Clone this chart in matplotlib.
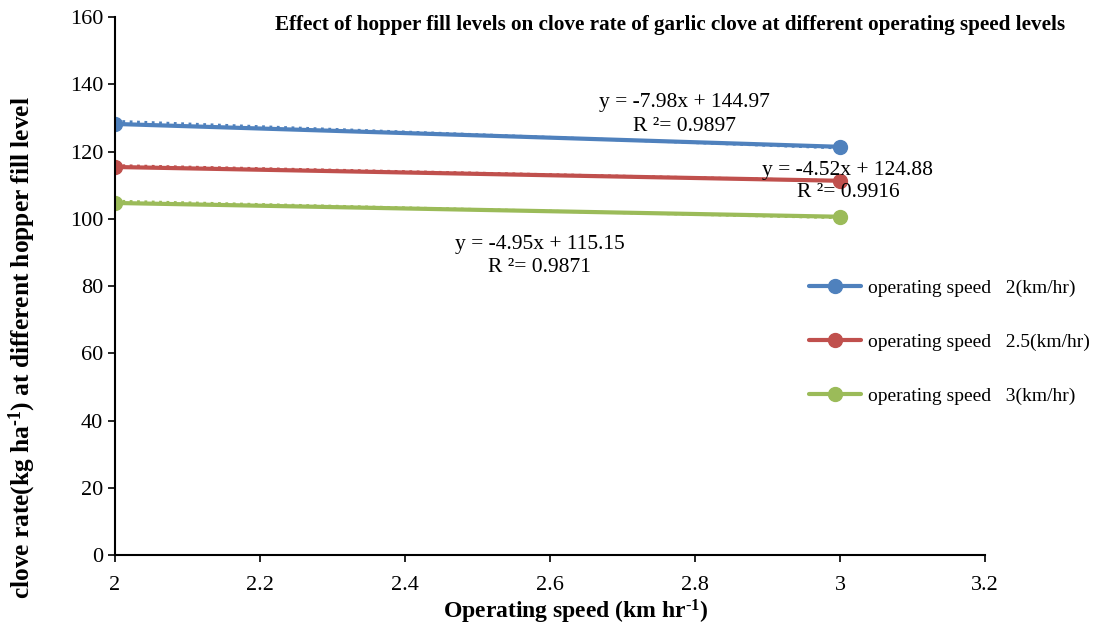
import matplotlib.pyplot as plt
import numpy as np

plt.rcParams['font.family'] = ['Liberation Serif', 'DejaVu Serif']
plt.rcParams['mathtext.fontset'] = 'custom'
plt.rcParams['mathtext.rm'] = 'Liberation Serif:bold'
plt.rcParams['mathtext.it'] = 'Liberation Serif:bold'
plt.rcParams['mathtext.bf'] = 'Liberation Serif:bold'

# -------- data --------
speed = [2, 3]
labels = ["operating speed   2(km/hr)",
          "operating speed   2.5(km/hr)",
          "operating speed   3(km/hr)"]
rate_2 = [128.2, 121.4]
rate_25 = [115.4, 111.3]
rate_3 = [104.7, 100.6]
slopes = [-7.98, -4.52, -4.95]
intercepts = [144.97, 124.88, 115.15]
r2 = [0.9897, 0.9916, 0.9871]
colors = ["#4F81BD", "#C0504D", "#9BBB59"]

fig = plt.figure(figsize=(11.1, 6.3), dpi=100)
ax = fig.add_axes([0.1036, 0.119, 0.7838, 0.854])

series = [rate_2, rate_25, rate_3]
for ys, lab, c, m, b in zip(series, labels, colors, slopes, intercepts):
    ax.plot(speed, ys, color=c, lw=3, marker="o", ms=10, label=lab,
            solid_capstyle="round")
    xt = np.array(speed, dtype=float)
    ax.plot(xt, m * xt + b, color=c, lw=2, ls=":")

# trendline equations
eq_pos = [(2.786, 134.7, 127.3), (3.011, 114.5, 107.7), (2.586, 92.2, 85.4)]
for (x0, y1, y2), m, b, r in zip(eq_pos, slopes, intercepts, r2):
    ax.text(x0, y1, f"y = {m:.2f}x + {b:.2f}", ha="center", va="center",
            fontsize=15.5)
    ax.text(x0, y2, f"R \u00b2= {r:.4f}", ha="center", va="center",
            fontsize=15.5)

ax.set_xlim(2, 3.2)
ax.set_ylim(0, 160)
ax.set_xticks(np.arange(2, 3.21, 0.2))
ax.set_xticklabels(["2", "2.2", "2.4", "2.6", "2.8", "3", "3.2"])
ax.set_yticks(np.arange(0, 161, 20))
ax.tick_params(labelsize=16, width=1.2, length=5, direction="out")
ax.tick_params(axis="x", pad=10)
for s in ["top", "right"]:
    ax.spines[s].set_visible(False)
for s in ["left", "bottom"]:
    ax.spines[s].set_linewidth(1.5)

ax.set_xlabel(r"Operating speed (km hr$^{\text{-1}}$)", fontsize=17,
              fontweight="bold", va="center")
ax.xaxis.set_label_coords(0.53, -0.106)
ax.set_ylabel(r"clove rate(kg ha$^{\text{-1}}$) at different hopper fill level",
              fontsize=18.3, fontweight="bold", va="center")
ax.yaxis.set_label_coords(-0.107, 0.385)

fig.text(0.604, 0.96,
         "Effect of hopper fill levels on clove rate of garlic clove at different operating speed levels",
         ha="center", va="center", fontsize=15.2, fontweight="bold")

fig.legend(loc="upper left", bbox_to_anchor=(0.713, 0.585), frameon=False,
           fontsize=14, handlelength=2.7, labelspacing=1.88,
           handletextpad=0.35)

fig.savefig("out.png", dpi=100)
